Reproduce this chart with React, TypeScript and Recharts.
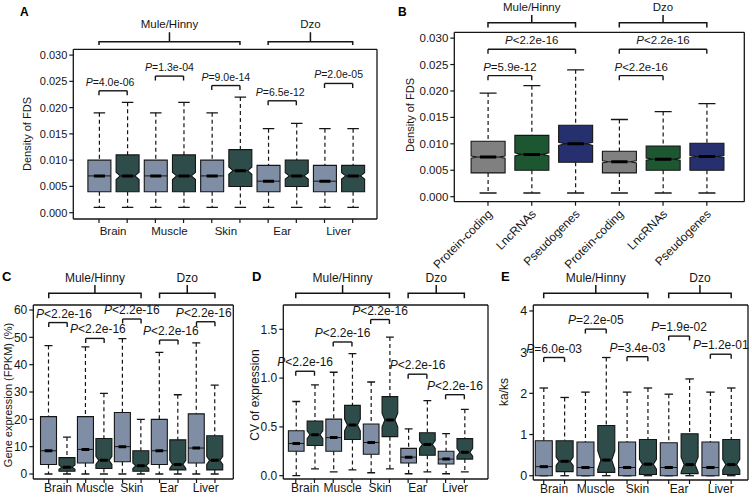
import React from "react";
import { ComposedChart, Bar, XAxis, YAxis, ReferenceLine } from "recharts";

const FONT = "'Liberation Sans', Arial, Helvetica, sans-serif";
const INK = "#151515";
const W = 752;
const H = 502;

// shared categories
const tissues = ["Brain", "Muscle", "Skin", "Ear", "Liver"];
const hybrids = ["Mule/Hinny", "Dzo"];
const geneTypes = ["Protein-coding", "LncRNAs", "Pseudogenes"];

// A: density of FDS per tissue (two boxes per tissue)
const aMin = [0.001, 0.001, 0.001, 0.001, 0.001, 0.001, 0.001, 0.001, 0.001, 0.001];
const aQ1 = [0.004, 0.004, 0.004, 0.004, 0.004, 0.005, 0.004, 0.005, 0.004, 0.004];
const aMed = [0.007, 0.007, 0.007, 0.007, 0.007, 0.008, 0.006, 0.007, 0.006, 0.007];
const aQ3 = [0.01, 0.011, 0.01, 0.011, 0.01, 0.012, 0.009, 0.01, 0.009, 0.009];
const aMax = [0.019, 0.021, 0.019, 0.021, 0.019, 0.022, 0.016, 0.017, 0.016, 0.016];
const aNotch = [0, 0.0007, 0, 0.0007, 0, 0.0007, 0, 0.0006, 0, 0.0006];
const aP = ["=4.0e-06", "=1.3e-04", "=9.0e-14", "=6.5e-12", "=2.0e-05"];
const aPLevel = [0.0232, 0.026, 0.0242, 0.0213, 0.0246];

// B: density of FDS per gene type
const bMin = [0.0007, 0.0007, 0.0007, 0.0007, 0.0007, 0.0007];
const bQ1 = [0.0045, 0.005, 0.0065, 0.0045, 0.005, 0.005];
const bMed = [0.0075, 0.008, 0.01, 0.0066, 0.0071, 0.0076];
const bQ3 = [0.0105, 0.0116, 0.0135, 0.0086, 0.0096, 0.0101];
const bMax = [0.0196, 0.021, 0.024, 0.0146, 0.0161, 0.0176];
const bNotch = [0.0002, 0.0003, 0.0003, 0.0002, 0.0002, 0.0002];
const bPairs: [number, number, string, number][] = [
  [0, 1, "=5.9e-12", 0.0229],
  [0, 2, "<2.2e-16", 0.0279],
  [3, 4, "<2.2e-16", 0.0229],
  [3, 5, "<2.2e-16", 0.0279],
];

// C: gene expression (FPKM) (%)
const cMin = [0, 0, 0, 0, 0, 0, 0, 0, 0, 0];
const cQ1 = [3.5, 1, 4, 2, 4.5, 1, 3.5, 1.5, 4, 1.5];
const cMed = [8.5, 2.5, 9, 5, 10, 3, 8.5, 3.5, 9.5, 5];
const cQ3 = [21, 6, 21, 13, 22.5, 8.5, 20, 12.5, 22, 14];
const cMax = [47, 13.5, 46.5, 29.5, 49.5, 20, 44.5, 29, 48, 32.5];
const cNotch = [0, 0.8, 0, 1.5, 0, 1, 0, 1.5, 0, 1.5];
const cP = ["<2.2e-16", "<2.2e-16", "<2.2e-16", "<2.2e-16", "<2.2e-16"];
const cPLevel = [55.4, 49.6, 56.7, 49, 55.7];

// D: CV of expression
const dMin = [0.0, 0.07, 0.04, 0.06, 0.03, 0.07, 0.02, 0.04, 0.02, 0.04];
const dQ1 = [0.25, 0.31, 0.25, 0.37, 0.22, 0.4, 0.13, 0.21, 0.12, 0.17];
const dMed = [0.33, 0.42, 0.39, 0.52, 0.34, 0.57, 0.19, 0.32, 0.17, 0.24];
const dQ3 = [0.46, 0.56, 0.58, 0.72, 0.53, 0.81, 0.28, 0.44, 0.25, 0.38];
const dMax = [0.76, 0.93, 1.06, 1.25, 0.96, 1.42, 0.48, 0.77, 0.43, 0.68];
const dNotch = [0, 0.04, 0, 0.06, 0, 0.07, 0, 0.04, 0, 0.04];
const dP = ["<2.2e-16", "<2.2e-16", "<2.2e-16", "<2.2e-16", "<2.2e-16"];
const dPLevel = [1.07, 1.37, 1.6, 1.04, 0.83];

// E: ka/ks
const eMin = [0, 0, 0, 0, 0, 0, 0, 0, 0, 0];
const eQ1 = [0, 0.1, 0, 0.08, 0, 0.03, 0, 0.05, 0, 0.03];
const eMed = [0.22, 0.35, 0.2, 0.38, 0.2, 0.28, 0.2, 0.27, 0.2, 0.27];
const eQ3 = [0.85, 0.85, 0.82, 1.22, 0.82, 0.88, 0.8, 1.02, 0.82, 0.88];
const eMax = [2.13, 1.9, 2.03, 2.87, 2.03, 2.13, 1.98, 2.35, 2.03, 2.13];
const eNotch = [0, 0.1, 0, 0.22, 0, 0.12, 0, 0.18, 0, 0.13];
const eP = ["=6.0e-03", "=2.2e-05", "=3.4e-03", "=1.9e-02", "=1.2e-01"];
const ePLevel = [2.87, 3.56, 2.89, 3.39, 2.95];

type Row = { key: string; min: number; q1: number; med: number; q3: number; max: number; notch: number; fill: string };

const tissueKeys = tissues.flatMap((t) => [`${t}|parent`, `${t}|hybrid`]);
const typeKeys = hybrids.flatMap((h) => geneTypes.map((g) => `${h}|${g}`));

const buildRows = (keys: string[], mn: number[], q1: number[], md: number[], q3: number[], mx: number[], nt: number[], colors: string[]): Row[] =>
  keys.map((key, i) => ({ key, min: mn[i], q1: q1[i], med: md[i], q3: q3[i], max: mx[i], notch: nt[i], fill: colors[i % colors.length] }));

const TISSUE_COLORS = ["#7f8ea5", "#2e4c49"];
const TYPE_COLORS = ["#808080", "#1c5731", "#27306f"];

const BoxShape = (props: any) => {
  const { x, y, width, height, payload } = props;
  if (!payload) return null;
  const top = Math.min(y, y + height);
  const bot = Math.max(y, y + height);
  const span = payload.max - payload.min;
  const py = (v: number) => bot - ((v - payload.min) / span) * (bot - top);
  const cx = x + width / 2;
  const xl = x;
  const xr = x + width;
  const d = payload.notch > 0 ? width * 0.18 : 0;
  const yq1 = py(payload.q1);
  const yq3 = py(payload.q3);
  const ym = py(payload.med);
  const yhi = py(payload.med + payload.notch);
  const ylo = py(payload.med - payload.notch);
  const cap = width / 4;
  const box =
    d > 0
      ? `M${xl},${yq3}H${xr}V${yhi}L${xr - d},${ym}L${xr},${ylo}V${yq1}H${xl}V${ylo}L${xl + d},${ym}L${xl},${yhi}Z`
      : `M${xl},${yq3}H${xr}V${yq1}H${xl}Z`;
  return (
    <g>
      <line x1={cx} x2={cx} y1={top} y2={yq3} stroke={INK} strokeWidth={1.2} strokeDasharray="4 3" />
      <line x1={cx} x2={cx} y1={yq1} y2={bot} stroke={INK} strokeWidth={1.2} strokeDasharray="4 3" />
      <line x1={cx - cap} x2={cx + cap} y1={top} y2={top} stroke={INK} strokeWidth={1.3} />
      <line x1={cx - cap} x2={cx + cap} y1={bot} y2={bot} stroke={INK} strokeWidth={1.3} />
      <path d={box} fill={payload.fill} stroke={INK} strokeWidth={1.1} />
      <line x1={xl + d} x2={xr - d} y1={ym} y2={ym} stroke={INK} strokeWidth={1} />
      <line x1={cx - width * 0.24} x2={cx + width * 0.24} y1={ym} y2={ym} stroke="#000" strokeWidth={3} />
    </g>
  );
};

const pairLabel = (text: string, fs: number, dx: number) => (p: any) => {
  const { x, y, width } = p.viewBox;
  return (
    <g>
      <path d={`M${x},${y + 4.5}V${y}M${x + width},${y + 4.5}V${y}`} stroke={INK} strokeWidth={1.4} fill="none" />
      <text x={x + width / 2 + dx} y={y - 5} textAnchor="middle" fontSize={fs} fontFamily={FONT} fill={INK}>
        <tspan fontStyle="italic">P</tspan>
        {text}
      </text>
    </g>
  );
};

type GroupStyle = { lift: number; up: number; down: number; gap: number; font: number };

const groupLabel = (name: string, g: GroupStyle) => (p: any) => {
  const { x, y, width } = p.viewBox;
  const by = y - g.lift;
  const cx = x + width / 2;
  return (
    <g>
      <path
        d={`M${x},${by + g.down}V${by}H${x + width}V${by + g.down}M${cx},${by}V${by - g.up}`}
        stroke={INK}
        strokeWidth={1.5}
        fill="none"
      />
      <text x={cx} y={by - g.gap} textAnchor="middle" fontSize={g.font} fontFamily={FONT} fill={INK}>
        {name}
      </text>
    </g>
  );
};

type PanelCfg = {
  rows: Row[];
  plot: { x0: number; y0: number; x1: number; y1: number };
  pad: [number, number];
  boxW: number;
  domain: [number, number];
  ticks: number[];
  fmt: (v: number) => string;
  tickFont: number;
  pFont: number;
  pShift?: number[];
  groups: { from: string; to: string; name: string }[];
  group: GroupStyle;
  pairs: { from: string; to: string; text: string; level: number }[];
  tick: (step: number) => (p: any) => React.ReactElement;
};

function BoxPanel(cfg: PanelCfg) {
  const { rows, plot, pad, boxW, domain, ticks, fmt, tickFont, pFont, pShift, groups, group, pairs } = cfg;
  const YW = 50;
  const XH = 60;
  // top / right frame axes take 1px each
  const margin = { top: plot.y0 - 1, left: plot.x0 - YW, right: W - plot.x1 - 1, bottom: H - plot.y1 - XH };
  const step = (plot.x1 - plot.x0 - pad[0] - pad[1]) / rows.length;
  const axisLine = { stroke: INK, strokeWidth: 1.3 };
  return (
    <div style={{ position: "absolute", left: 0, top: 0 }}>
      <ComposedChart width={W} height={H} data={rows} margin={margin}>
        <XAxis
          dataKey="key"
          type="category"
          interval={0}
          padding={{ left: pad[0], right: pad[1] }}
          height={XH}
          tickSize={4}
          tickMargin={2}
          axisLine={axisLine}
          tickLine={{ stroke: INK, strokeWidth: 1.2 }}
          tick={cfg.tick(step)}
        />
        <XAxis xAxisId="frame" orientation="top" dataKey="key" height={1} tick={false} tickLine={false} axisLine={axisLine} />
        <YAxis
          type="number"
          domain={domain}
          ticks={ticks}
          allowDataOverflow
          interval={0}
          width={YW}
          tickSize={4}
          tickMargin={2}
          tickFormatter={fmt}
          tick={{ fontSize: tickFont, fill: INK, fontFamily: FONT }}
          axisLine={axisLine}
          tickLine={{ stroke: INK, strokeWidth: 1.2 }}
        />
        <YAxis yAxisId="frame" orientation="right" width={1} domain={[0, 1]} tick={false} tickLine={false} axisLine={axisLine} />
        <Bar
          dataKey={(r: Row) => [r.min, r.max]}
          barSize={boxW}
          shape={(p: any) => <BoxShape {...p} />}
          isAnimationActive={false}
        />
        {groups.map((g) => (
          <ReferenceLine
            key={g.name}
            segment={[
              { x: g.from, y: domain[1] },
              { x: g.to, y: domain[1] },
            ]}
            stroke="none"
            ifOverflow="visible"
            label={groupLabel(g.name, group)}
          />
        ))}
        {pairs.map((p, i) => (
          <ReferenceLine
            key={`p${i}`}
            segment={[
              { x: p.from, y: p.level },
              { x: p.to, y: p.level },
            ]}
            stroke={INK}
            strokeWidth={1.4}
            ifOverflow="visible"
            label={pairLabel(p.text, pFont, pShift ? pShift[i] : 0)}
          />
        ))}
      </ComposedChart>
    </div>
  );
}

const pairTick = (fs: number, dy: number) => (step: number) => (p: any) => {
  const i = p.index;
  if (i % 2 !== 0) return <g />;
  return (
    <text x={p.x + step / 2} y={p.y + dy} textAnchor="middle" fontSize={fs} fontFamily={FONT} fill={INK}>
      {tissues[i / 2]}
    </text>
  );
};

const slantTick = (fs: number) => () => (p: any) => {
  const label = String(p.payload.value).split("|")[1];
  const ax = p.x + 5;
  const ay = p.y + 7;
  return (
    <text x={ax} y={ay} transform={`rotate(-45 ${ax} ${ay})`} textAnchor="end" fontSize={fs} fontFamily={FONT} fill={INK}>
      {label}
    </text>
  );
};

const tissueGroups = [
  { from: tissueKeys[0], to: tissueKeys[5], name: hybrids[0] },
  { from: tissueKeys[6], to: tissueKeys[9], name: hybrids[1] },
];
const tissuePairs = (texts: string[], levels: number[]) =>
  texts.map((text, i) => ({ from: tissueKeys[2 * i], to: tissueKeys[2 * i + 1], text, level: levels[i] }));

const panels: PanelCfg[] = [
  {
    rows: buildRows(tissueKeys, aMin, aQ1, aMed, aQ3, aMax, aNotch, TISSUE_COLORS),
    plot: { x0: 73.3, y0: 49.3, x1: 377, y1: 219 },
    pad: [11.6, 10.2],
    boxW: 23,
    domain: [-0.0012, 0.0311],
    ticks: [0, 0.005, 0.01, 0.015, 0.02, 0.025, 0.03],
    fmt: (v) => v.toFixed(3),
    tickFont: 11,
    pFont: 10.5,
    pShift: [-3, 0, 0, -2, 0],
    groups: tissueGroups,
    group: { lift: 7.6, up: 9.4, down: 3.4, gap: 13.5, font: 11.5 },
    pairs: tissuePairs(aP, aPLevel),
    tick: pairTick(11.5, 10),
  },
  {
    rows: buildRows(typeKeys, bMin, bQ1, bMed, bQ3, bMax, bNotch, TYPE_COLORS),
    plot: { x0: 454.3, y0: 32.3, x1: 744.3, y1: 201.7 },
    pad: [11.8, 15.6],
    boxW: 34,
    domain: [-0.00095, 0.0311],
    ticks: [0, 0.005, 0.01, 0.015, 0.02, 0.025, 0.03],
    fmt: (v) => v.toFixed(3),
    tickFont: 11.5,
    pFont: 11.5,
    groups: [
      { from: typeKeys[0], to: typeKeys[2], name: hybrids[0] },
      { from: typeKeys[3], to: typeKeys[5], name: hybrids[1] },
    ],
    group: { lift: 9.6, up: 7.7, down: 4.7, gap: 11.4, font: 11.5 },
    pairs: bPairs.map(([a, b, text, level]) => ({ from: typeKeys[a], to: typeKeys[b], text, level })),
    tick: slantTick(12),
  },
  {
    rows: buildRows(tissueKeys, cMin, cQ1, cMed, cQ3, cMax, cNotch, TISSUE_COLORS),
    plot: { x0: 33.3, y0: 305, x1: 233.3, y1: 479 },
    pad: [6.2, 9.1],
    boxW: 16,
    domain: [-1.83, 61.83],
    ticks: [0, 10, 20, 30, 40, 50, 60],
    fmt: (v) => String(v),
    tickFont: 12,
    pFont: 12,
    pShift: [6, 3, 0, 2, -2],
    groups: tissueGroups,
    group: { lift: 11.7, up: 8.3, down: 5, gap: 11.5, font: 12 },
    pairs: tissuePairs(cP, cPLevel),
    tick: pairTick(12, 7),
  },
  {
    rows: buildRows(tissueKeys, dMin, dQ1, dMed, dQ3, dMax, dNotch, TISSUE_COLORS),
    plot: { x0: 283.3, y0: 305, x1: 488, y1: 479 },
    pad: [3.1, 14.3],
    boxW: 15.7,
    domain: [-0.034, 1.749],
    ticks: [0, 0.5, 1, 1.5],
    fmt: (v) => v.toFixed(1),
    tickFont: 12,
    pFont: 12,
    groups: tissueGroups,
    group: { lift: 11.7, up: 8.3, down: 5, gap: 11.5, font: 12 },
    pairs: tissuePairs(dP, dPLevel),
    tick: pairTick(12, 7),
  },
  {
    rows: buildRows(tissueKeys, eMin, eQ1, eMed, eQ3, eMax, eNotch, TISSUE_COLORS),
    plot: { x0: 533.3, y0: 305, x1: 748, y1: 480 },
    pad: [0, 6.4],
    boxW: 17,
    domain: [-0.104, 4.145],
    ticks: [0, 1, 2, 3, 4],
    fmt: (v) => String(v),
    tickFont: 12.5,
    pFont: 12,
    groups: tissueGroups,
    group: { lift: 11.7, up: 8.3, down: 5, gap: 11.5, font: 12 },
    pairs: tissuePairs(eP, ePLevel),
    tick: pairTick(12, 7),
  },
];

const letters = [
  { t: "A", x: 20, y: 16, s: 12 },
  { t: "B", x: 398, y: 16, s: 12 },
  { t: "C", x: 2, y: 281, s: 13 },
  { t: "D", x: 252, y: 281, s: 13 },
  { t: "E", x: 501, y: 281, s: 13 },
];
const yTitles = [
  { t: "Density of FDS", x: 27, y: 134, s: 11 },
  { t: "Density of FDS", x: 410, y: 115, s: 11 },
  { t: "Gene expression (FPKM) (%)", x: 8, y: 395, s: 11 },
  { t: "CV of expression", x: 255, y: 395, s: 12 },
  { t: "ka/ks", x: 504, y: 392, s: 12 },
];

export default function App() {
  return (
    <div style={{ position: "absolute", left: 0, top: 0, width: W, height: H, background: "#fff" }}>
      {panels.map((cfg, i) => (
        <BoxPanel key={i} {...cfg} />
      ))}
      <svg width={W} height={H} style={{ position: "absolute", left: 0, top: 0, pointerEvents: "none" }}>
        {letters.map((l) => (
          <text key={l.t} x={l.x} y={l.y} fontSize={l.s} fontWeight="bold" fontFamily={FONT} fill="#000">
            {l.t}
          </text>
        ))}
        {yTitles.map((l, i) => (
          <text
            key={i}
            x={l.x}
            y={l.y}
            transform={`rotate(-90 ${l.x} ${l.y})`}
            textAnchor="middle"
            dominantBaseline="central"
            fontSize={l.s}
            fontFamily={FONT}
            fill={INK}
          >
            {l.t}
          </text>
        ))}
      </svg>
    </div>
  );
}
